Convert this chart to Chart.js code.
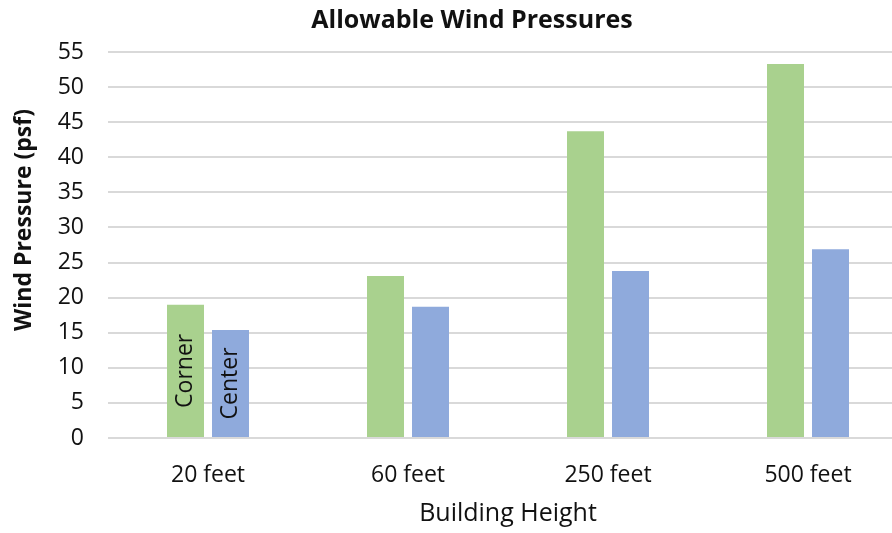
<!DOCTYPE html>
<html>
<head>
<meta charset="utf-8">
<title>Allowable Wind Pressures</title>
<script src="https://cdn.jsdelivr.net/npm/chart.js@4/dist/chart.umd.min.js"></script>
<style>
  html, body { margin: 0; padding: 0; background: #fff; overflow: hidden; }
  #wrap { position: relative; width: 892px; height: 533px; overflow: hidden; }
  canvas { position: absolute; left: 0; top: 0; }
</style>
</head>
<body>
<div id="wrap"><canvas id="chart" width="944" height="533"></canvas></div>
<script>
// Building heights and allowable pressures (psf)
const heights = ['20 feet', '60 feet', '250 feet', '500 feet'];
const cornerPressure = [19.0, 23.1, 43.7, 53.3];
const centerPressure = [15.4, 18.7, 23.8, 26.9];
const seriesNames = ['Corner', 'Center'];
const chartTitle = 'Allowable Wind Pressures';
const yTitle = 'Wind Pressure (psf)';
const xTitle = 'Building Height';

const FONT = "'Open Sans', 'Noto Sans', sans-serif";
const TEXT = '#111';

// Chart title and rotated y-axis title, drawn on the canvas
const titles = {
  id: 'titles',
  afterDraw(chart) {
    const ctx = chart.ctx;
    ctx.save();
    ctx.fillStyle = TEXT;
    ctx.textAlign = 'center';
    ctx.textBaseline = 'middle';
    ctx.font = 'bold 25px ' + FONT;
    ctx.fillText(chartTitle, 472, 21);
    ctx.translate(24, 220);
    ctx.rotate(-Math.PI / 2);
    ctx.font = 'bold 23px ' + FONT;
    ctx.fillText(yTitle, 0, 0);
    ctx.restore();
  }
};

// Series names written vertically inside the first pair of bars
const seriesTags = {
  id: 'seriesTags',
  afterDatasetsDraw(chart) {
    const ctx = chart.ctx;
    ctx.save();
    ctx.fillStyle = TEXT;
    ctx.font = '23px ' + FONT;
    ctx.textAlign = 'center';
    ctx.textBaseline = 'middle';
    chart.data.datasets.forEach((ds, i) => {
      const bar = chart.getDatasetMeta(i).data[0];
      ctx.save();
      ctx.translate(bar.x, (bar.y + bar.base) / 2);
      ctx.rotate(-Math.PI / 2);
      ctx.fillText(ds.label, 0, 0);
      ctx.restore();
    });
    ctx.restore();
  }
};

new Chart(document.getElementById('chart'), {
  type: 'bar',
  data: {
    labels: heights,
    datasets: [
      { label: seriesNames[0], data: cornerPressure, backgroundColor: '#A9D18E' },
      { label: seriesNames[1], data: centerPressure, backgroundColor: '#8FAADC' }
    ]
  },
  options: {
    responsive: false,
    animation: false,
    devicePixelRatio: 1,
    categoryPercentage: 0.45,
    barPercentage: 0.822,
    layout: { padding: { top: 52, right: 36, left: 0, bottom: 0 } },
    plugins: {
      legend: { display: false },
      title: { display: false },
      tooltip: { enabled: false }
    },
    scales: {
      x: {
        grid: { display: false },
        border: { display: false },
        ticks: { color: TEXT, font: { family: FONT, size: 23 }, padding: 16 },
        title: { display: true, text: xTitle, color: TEXT, font: { family: FONT, size: 25 }, padding: { top: 10, bottom: 4 } },
        afterFit(scale) { scale.height = 95; }
      },
      y: {
        min: 0,
        max: 55,
        ticks: { stepSize: 5, color: TEXT, font: { family: FONT, size: 23 }, padding: 24 },
        grid: { color: '#D9D9D9', lineWidth: 2, drawTicks: false },
        border: { display: false },
        afterFit(scale) { scale.width = 108; }
      }
    }
  },
  plugins: [titles, seriesTags]
});
</script>
</body>
</html>
